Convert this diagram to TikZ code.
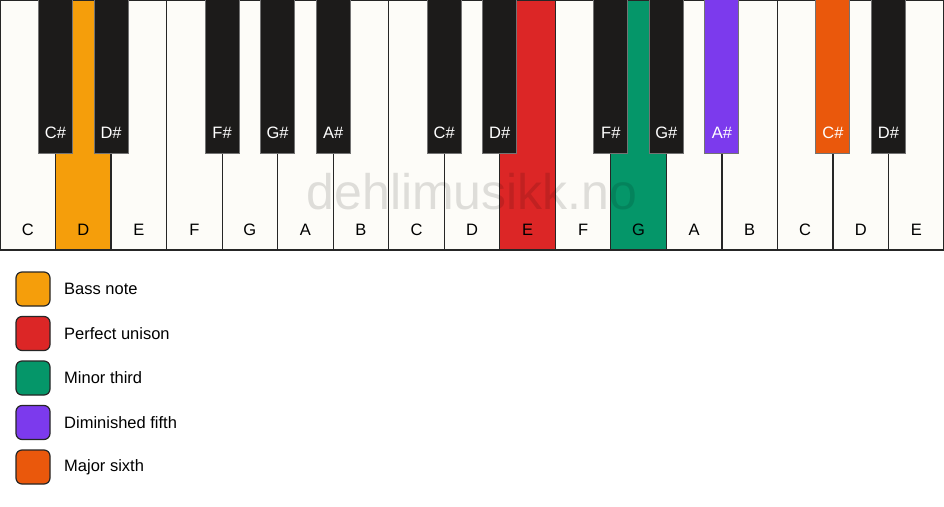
\documentclass[tikz,border=0pt]{standalone}
\usepackage{fontspec}
\setmainfont{Liberation Sans}
\definecolor{wkey}{HTML}{FDFCF8}
\definecolor{bkey}{HTML}{1C1B1A}
\definecolor{cbass}{HTML}{F59E0B}
\definecolor{cuni}{HTML}{DC2626}
\definecolor{cmin}{HTML}{059669}
\definecolor{cdim}{HTML}{7C3AED}
\definecolor{cmaj}{HTML}{EA580C}
\tikzset{
  whitekey/.style={draw=black!85, line width=1.2pt, fill=wkey},
  blackkey/.style={draw=black!55, line width=1pt, fill=bkey},
  wlabel/.style={font=\fontsize{16.5}{19}\selectfont, text=black, inner sep=0pt},
  blabel/.style={font=\fontsize{16.5}{19}\selectfont, text=white, inner sep=0pt},
  legbox/.style={draw=black!85, line width=1.2pt, rounded corners=6pt, minimum width=34pt, minimum height=34pt, inner sep=0pt},
  legtext/.style={font=\fontsize{16.5}{19}\selectfont, anchor=west, inner sep=0pt},
}
\begin{document}
\begin{tikzpicture}[x=1pt,y=-1pt]
\useasboundingbox[fill=white] (0,0) rectangle (944,506);
\def\w{55.53}
% white keys
\foreach \n/\c [count=\i from 0] in {C/wkey,D/cbass,E/wkey,F/wkey,G/wkey,A/wkey,B/wkey,C/wkey,D/wkey,E/cuni,F/wkey,G/cmin,A/wkey,B/wkey,C/wkey,D/wkey,E/wkey}{
  \draw[whitekey, fill=\c] ({\i*\w},0) rectangle ({(\i+1)*\w},250);
  \node[wlabel] (w\i) at ({(\i+0.5)*\w},230) {\n};
}
% black keys
\foreach \b/\n/\c in {1/C\#/bkey,2/D\#/bkey,4/F\#/bkey,5/G\#/bkey,6/A\#/bkey,8/C\#/bkey,9/D\#/bkey,11/F\#/bkey,12/G\#/bkey,13/A\#/cdim,15/C\#/cmaj,16/D\#/bkey}{
  \draw[blackkey, fill=\c] ({\b*\w-17},-1) rectangle ({\b*\w+17},153);
  \node[blabel] (b\b) at ({\b*\w},133) {\n};
}
% watermark
\node[font=\fontsize{50}{55}\selectfont, text=black, text opacity=0.12, inner sep=0pt] (wm) at (472,192) {dehlimusikk.no};
% legend
\foreach \c/\t [count=\i from 0] in {cbass/Bass note,cuni/Perfect unison,cmin/Minor third,cdim/Diminished fifth,cmaj/Major sixth}{
  \node[legbox, fill=\c] (lb\i) at (33,{289+\i*44.5}) {};
  \node[legtext] (lt\i) at (64,{289+\i*44.5}) {\t};
}
\end{tikzpicture}
\end{document}
